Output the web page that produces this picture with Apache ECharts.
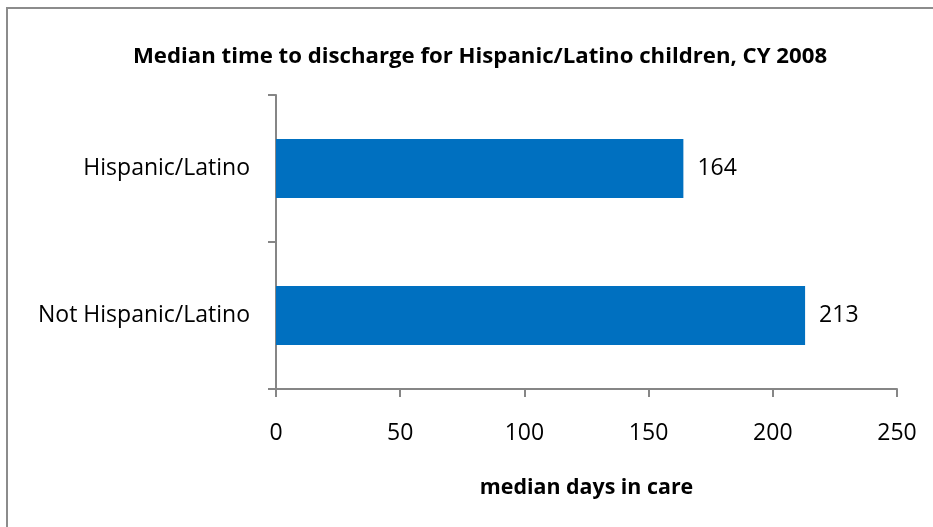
<!DOCTYPE html>
<html><head><meta charset="utf-8">
<script src="https://cdn.jsdelivr.net/npm/echarts@6/dist/echarts.min.js"></script>
<style>html,body{margin:0;padding:0;background:#fff;}#c{width:933px;height:527px;}</style>
</head><body><div id="c"></div>
<script>
const categories = ["Not Hispanic/Latino", "Hispanic/Latino"];
const values = [213, 164];
const xTicks = [0, 50, 100, 150, 200, 250];
const titleText = "Median time to discharge for Hispanic/Latino children, CY 2008";
const xAxisName = "median days in care";

const chart = echarts.init(document.getElementById('c'), null, {renderer: 'canvas'});
const font = "'Open Sans', sans-serif";
chart.setOption({
  animation: false,
  backgroundColor: '#fff',
  title: {
    text: titleText, left: 475, top: 52, textAlign: 'center', textVerticalAlign: 'middle',
    textStyle: {fontFamily: font, fontWeight: 'bold', fontSize: 22.2, color: '#000'}
  },
  graphic: [{type: 'rect', shape: {x: 7, y: 8, width: 1000, height: 1000}, style: {fill: 'none', stroke: '#8c8c8c', lineWidth: 2}, silent: true}],
  grid: {left: 276, right: 36, top: 95, bottom: 138, containLabel: false},
  xAxis: {
    type: 'value', min: xTicks[0], max: xTicks[xTicks.length - 1], interval: 50,
    name: xAxisName, nameLocation: 'middle', nameGap: 88,
    nameTextStyle: {fontFamily: font, fontWeight: 'bold', fontSize: 21.4, color: '#000'},
    axisLine: {show: true, lineStyle: {color: '#868686', width: 2}},
    axisTick: {show: true, length: 8, lineStyle: {color: '#868686', width: 2}},
    axisLabel: {fontFamily: font, fontSize: 23, color: '#000', margin: 33},
    splitLine: {show: false}
  },
  yAxis: {
    type: 'category', data: categories,
    axisLine: {show: true, lineStyle: {color: '#868686', width: 2}},
    axisTick: {show: true, length: 8, lineStyle: {color: '#868686', width: 2}},
    axisLabel: {fontFamily: font, fontSize: 23, color: '#000', margin: 26}
  },
  series: [{
    type: 'bar', data: values, barCategoryGap: '60%',
    itemStyle: {color: '#0070C0'},
    label: {show: true, position: 'right', distance: 14, fontFamily: font, fontSize: 23, color: '#000'}
  }]
});
</script></body></html>
